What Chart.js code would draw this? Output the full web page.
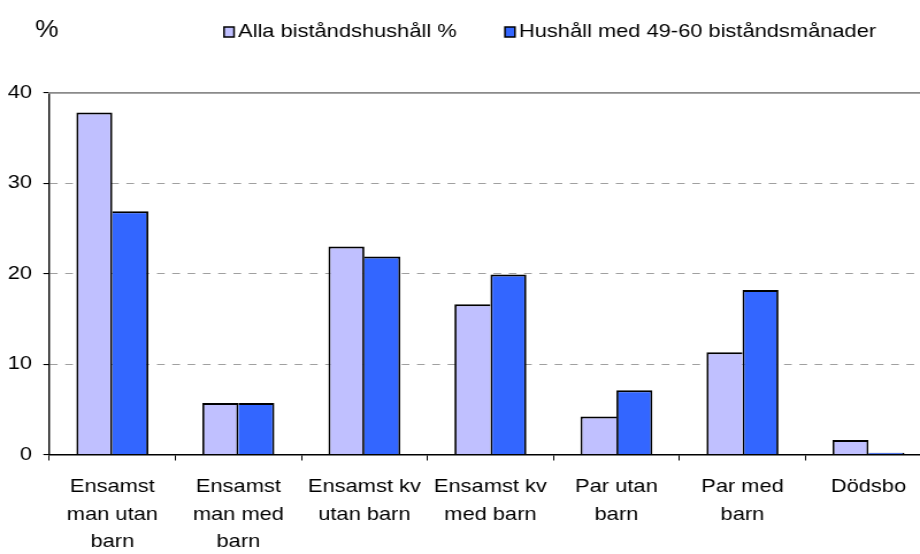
<!DOCTYPE html>
<html>
<head>
<meta charset="utf-8">
<script src="https://cdn.jsdelivr.net/npm/chart.js@4/dist/chart.umd.min.js"></script>
<style>
    html, body { margin: 0; padding: 0; background: #fff; overflow: hidden; width: 920px; height: 554px; }
    /* originalet är utdraget på bredden, så ritytan sträcks lika mycket */
    #ram { width: 815px; height: 554px; transform: scaleX(1.15); transform-origin: 0 0; }
</style>
</head>
<body>
<div id="ram"><canvas id="grafico" width="815" height="554"></canvas></div>
<script>
const kategorier = [
    ['Ensamst', 'man utan', 'barn'],
    ['Ensamst', 'man med', 'barn'],
    ['Ensamst kv', 'utan barn'],
    ['Ensamst kv', 'med barn'],
    ['Par utan', 'barn'],
    ['Par med', 'barn'],
    'Dödsbo'
];
const allaHushall = [37.8, 5.7, 23.0, 16.6, 4.2, 11.3, 1.6];
const langaBistand = [26.9, 5.7, 21.9, 19.9, 7.1, 18.2, 0.2];
const serieNamn = ['Alla biståndshushåll %', 'Hushåll med 49-60 biståndsmånader'];
const serieFarg = ['#C0C0FF', '#3366FF'];
const yVarden = [0, 10, 20, 30, 40];
const enhet = '%';

const typsnitt = '"Liberation Sans", Arial, sans-serif';
Chart.defaults.font.family = typsnitt;
Chart.defaults.font.size = 19;
Chart.defaults.color = '#000';

// "%" uppe till vänster och förklaringen ritas för hand för att hamna rätt
const rubrikOchForklaring = {
    id: 'rubrikOchForklaring',
    afterDraw(chart) {
        const ctx = chart.ctx;
        ctx.save();
        ctx.textBaseline = 'alphabetic';
        ctx.fillStyle = '#000';
        ctx.font = '23px ' + typsnitt;
        ctx.fillText(enhet, 30.5, 37);
        ctx.font = '19px ' + typsnitt;
        let x = 194.8;
        chart.data.datasets.forEach(ds => {
            ctx.fillStyle = ds.backgroundColor;
            ctx.fillRect(x, 27, 8.7, 10);
            ctx.strokeStyle = '#000';
            ctx.lineWidth = 1.5;
            ctx.strokeRect(x, 27, 8.7, 10);
            ctx.fillStyle = '#000';
            ctx.fillText(ds.label, x + 12.2, 37);
            x += 12.2 + ctx.measureText(ds.label).width + 42;
        });
        ctx.restore();
    }
};

const nollaPadding = s => {
    s.paddingTop = 0;
    s.paddingBottom = 0;
    s.paddingLeft = 0;
    s.paddingRight = 0;
};

new Chart(document.getElementById('grafico').getContext('2d'), {
    type: 'bar',
    data: {
        labels: kategorier,
        datasets: [{
            label: serieNamn[0],
            data: allaHushall,
            backgroundColor: serieFarg[0],
            borderColor: '#000',
            borderWidth: c => ({
                top: 2, left: 1.8, bottom: 0,
                right: allaHushall[c.dataIndex] >= langaBistand[c.dataIndex] ? 1.8 : 0
            }),
            categoryPercentage: 0.571,
            barPercentage: 1
        }, {
            label: serieNamn[1],
            data: langaBistand,
            backgroundColor: serieFarg[1],
            borderColor: '#000',
            borderWidth: c => ({
                top: 2, right: 1.8, bottom: 0,
                left: langaBistand[c.dataIndex] > allaHushall[c.dataIndex] ? 1.8 : 0
            }),
            categoryPercentage: 0.571,
            barPercentage: 1
        }]
    },
    options: {
        responsive: false,
        animation: false,
        layout: { padding: { top: 92.7, left: 0, right: 5, bottom: 0 } },
        plugins: {
            legend: { display: false },
            tooltip: { enabled: false }
        },
        scales: {
            x: {
                offset: true,
                grid: { offset: true, drawOnChartArea: false, tickLength: 6, tickColor: '#000', color: '#000' },
                border: { color: '#000', width: 1.4 },
                ticks: {
                    color: '#000',
                    font: { size: 19, lineHeight: 1.44 },
                    padding: 13,
                    maxRotation: 0,
                    autoSkip: false
                },
                afterFit: s => { nollaPadding(s); s.height = 99.5; }
            },
            y: {
                min: yVarden[0],
                max: yVarden[yVarden.length - 1],
                ticks: { stepSize: yVarden[1] - yVarden[0], color: '#000', padding: 9.8, font: { size: 19 } },
                grid: {
                    color: c => (c.tick && (c.tick.value === yVarden[0] || c.tick.value === yVarden[yVarden.length - 1])) ? 'rgba(0,0,0,0)' : '#A0A0A0',
                    tickColor: '#000',
                    tickLength: 5.2,
                    lineWidth: 1.1
                },
                border: { color: '#000', width: 1.4, dash: [6.7, 6.6] },
                afterFit: s => { nollaPadding(s); s.width = 42.9; }
            },
            topplinje: {
                type: 'category',
                position: 'top',
                grid: { display: false, drawTicks: false },
                ticks: { display: false },
                border: { color: '#8A8A8A', width: 1.8 },
                afterFit: s => { nollaPadding(s); s.height = 0; }
            }
        }
    },
    plugins: [rubrikOchForklaring]
});
</script>
</body>
</html>
